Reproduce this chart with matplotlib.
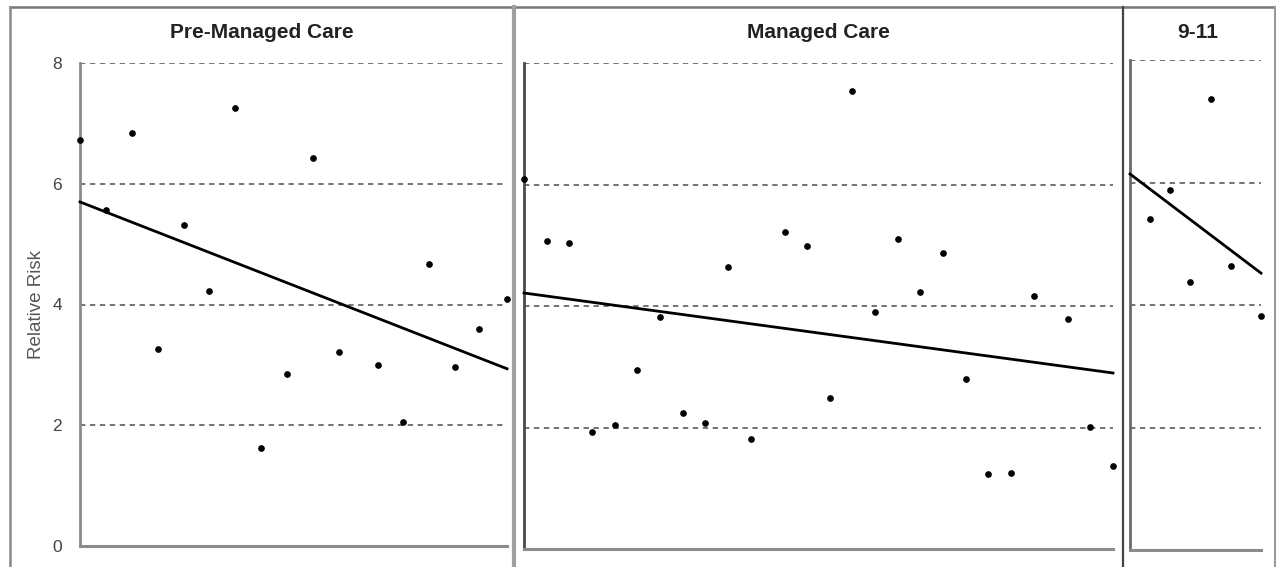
import numpy as np
import matplotlib
matplotlib.use('Agg')
import matplotlib.pyplot as plt
from matplotlib.lines import Line2D

#########################################################################################
# Data...
#########################################################################################
panel_titles = ['Pre-Managed Care', 'Managed Care', '9-11']

pre_x = [0, 1, 2, 3, 4, 5, 6, 7, 8, 9, 10, 11.5, 12.5, 13.5, 14.5, 15.4, 16.5]
pre_y = [6.72, 5.56, 6.84, 3.26, 5.31, 4.22, 7.25, 1.62, 2.85, 6.42, 3.21,
         3.00, 2.05, 4.67, 2.96, 3.59, 4.09]

mc_x = [0, 1, 2, 3, 4, 5, 6, 7, 8, 9, 10, 11.5, 12.5, 13.5, 14.5, 15.5, 16.5,
        17.5, 18.5, 19.5, 20.5, 21.5, 22.5, 24, 25, 26]
mc_y = [6.09, 5.07, 5.04, 1.93, 2.04, 2.95, 3.82, 2.24, 2.07, 4.64, 1.81, 5.22,
        4.99, 2.49, 7.54, 3.90, 5.10, 4.23, 4.87, 2.80, 1.23, 1.25, 4.16, 3.79,
        2.01, 1.37]

sep_x = [1, 2, 3, 4, 5, 6.5]
sep_y = [5.40, 5.88, 4.38, 7.36, 4.64, 3.82]

x_limits = [16.5, 26, 6.5]
y_ticks = [0, 2, 4, 6, 8]
#########################################################################################

plt.rcParams['font.family'] = ['Liberation Sans Narrow', 'Liberation Sans', 'DejaVu Sans']

W, H = 1276, 567
fig = plt.figure(figsize=(W / 100, H / 100), dpi=100)

def px_rect(left, top, right, bottom):
    return [left / W, 1 - bottom / H, (right - left) / W, (bottom - top) / H]

rects = [px_rect(80, 63, 507, 546), px_rect(524, 63, 1113, 549), px_rect(1130, 60, 1261, 550)]
section_centers = [262, 818, 1198]
series = [(pre_x, pre_y), (mc_x, mc_y), (sep_x, sep_y)]
spine_colors = ['#8a8a8a', '#4a4a4a', '#6a6a6a']

for i, (rect, (xs, ys)) in enumerate(zip(rects, series)):
    ax = fig.add_axes(rect)
    ax.set_xlim(0, x_limits[i])
    ax.set_ylim(0, 8)
    for v in y_ticks[1:]:
        ax.axhline(v, color='#4d4d4d', lw=1.1, ls=(0, (3.5, 3)), zorder=1)
    # trend line (least squares) across the whole panel
    slope, intercept = np.polyfit(xs, ys, 1)
    xx = np.array([0, x_limits[i]])
    ax.plot(xx, intercept + slope * xx, color='black', lw=2.0, zorder=3, clip_on=False)
    ax.plot(xs, ys, 'o', color='black', ms=3.8, zorder=4, clip_on=False)

    for side in ['top', 'right']:
        ax.spines[side].set_visible(False)
    ax.spines['left'].set_color(spine_colors[i])
    ax.spines['bottom'].set_color('#8a8a8a')
    ax.spines['left'].set_linewidth(2.0)
    ax.spines['bottom'].set_linewidth(2.2)
    ax.set_xticks([])
    ax.set_yticks(y_ticks)
    ax.tick_params(axis='y', length=0, pad=13, labelsize=12.5, labelcolor='#444444')
    if i == 0:
        ax.set_ylabel('Relative Risk', fontsize=13.5, color='#555555', labelpad=5)
    else:
        ax.set_yticklabels([])

    fig.text(section_centers[i] / W, 1 - 33 / H, panel_titles[i], ha='center', va='center',
             fontsize=15, fontweight='bold', color='#222222')

# outer frame and separators
def vline(x, color, lw):
    fig.add_artist(Line2D([x / W, x / W], [0, 1 - 7 / H], color=color, lw=lw))

fig.add_artist(Line2D([10 / W, 1275 / W], [1 - 7 / H, 1 - 7 / H], color='#777777', lw=1.8))
vline(10, '#888888', 1.8)
vline(514, '#a0a0a0', 3.0)
vline(1122.5, '#444444', 1.6)
vline(1275, '#999999', 1.5)

fig.savefig('out.png', dpi=100)
